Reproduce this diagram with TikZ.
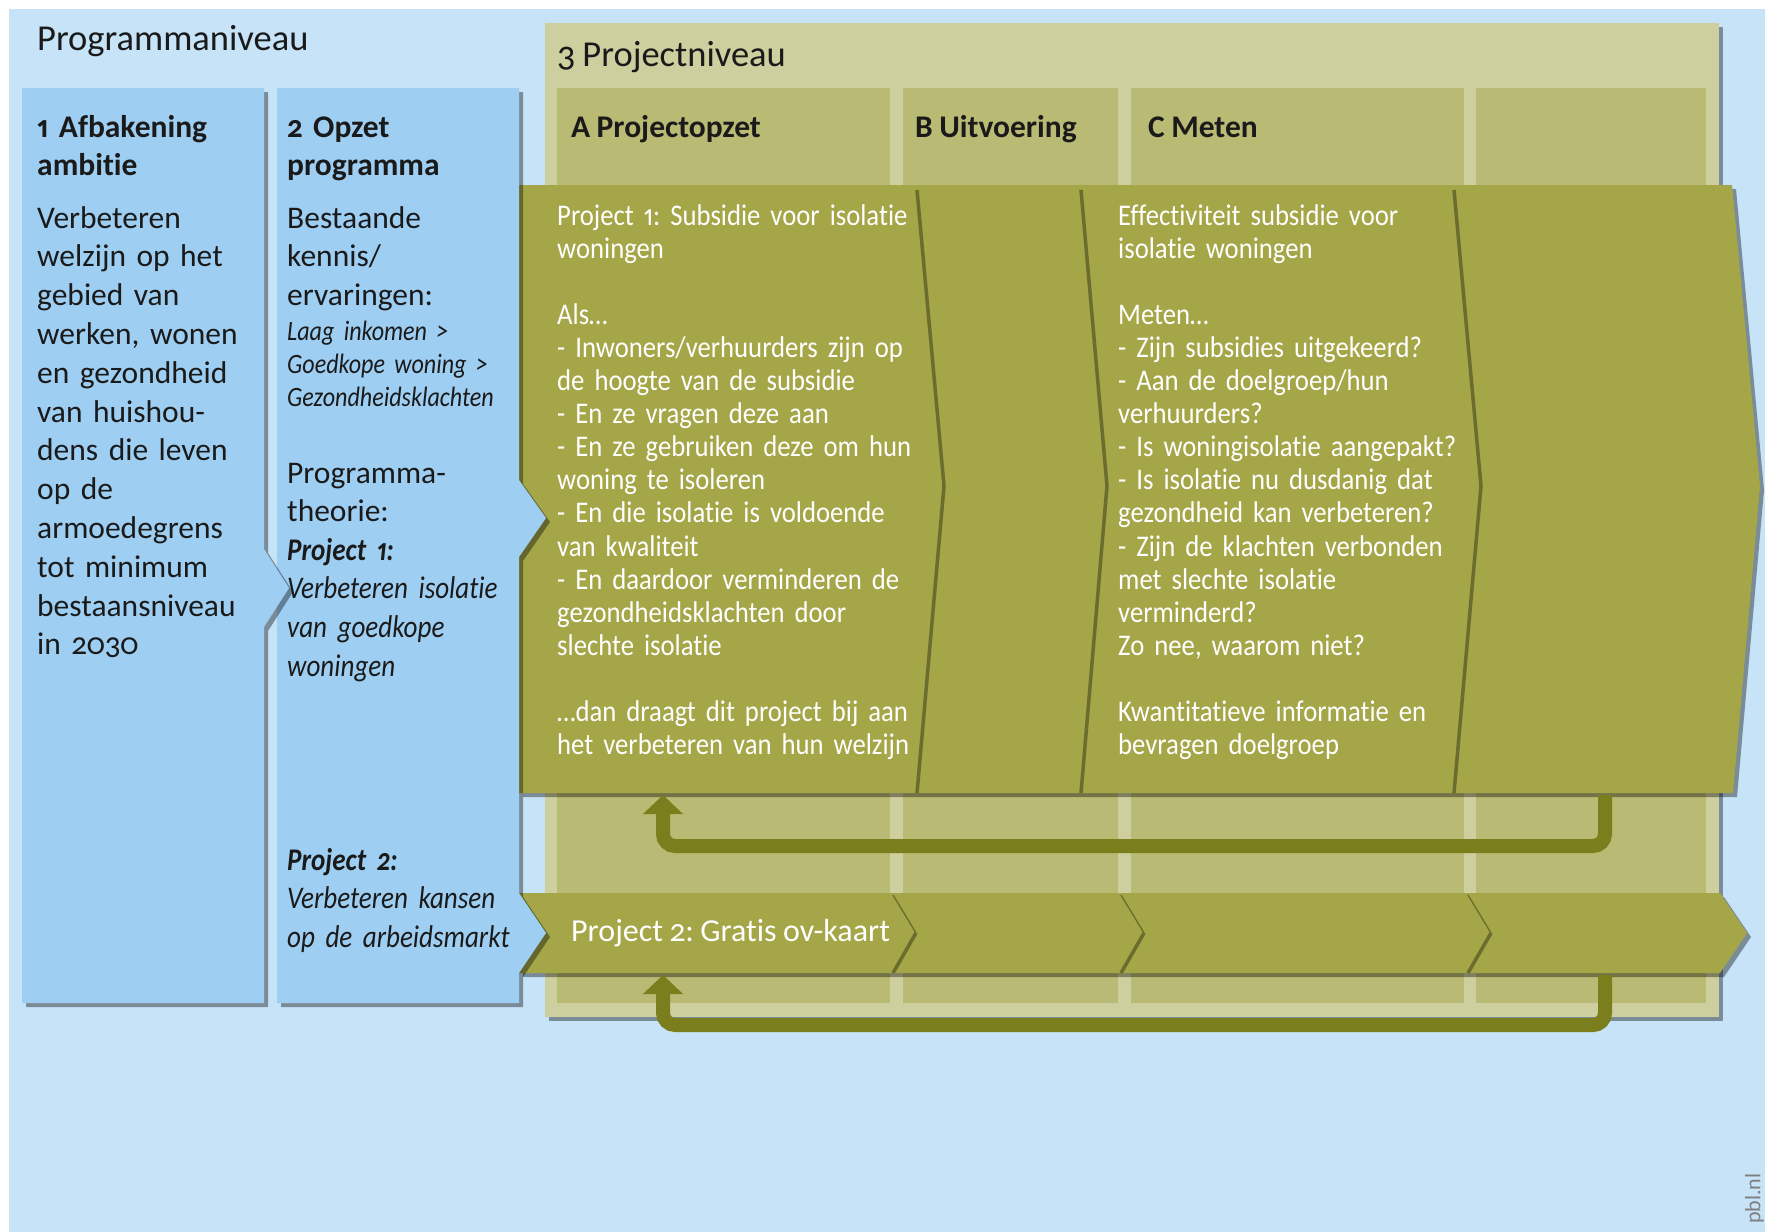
\documentclass[tikz,border=0pt]{standalone}
\usepackage{fontspec}
\setmainfont{Carlito}[Numbers={OldStyle,Proportional},WordSpace=0.9,Ligatures={NoCommon,NoContextual},Contextuals=NoAlternate]
\newfontfamily\condfont{Carlito}[FakeStretch=0.89,Numbers={OldStyle,Proportional},WordSpace=0.85,Ligatures={NoCommon,NoContextual},Contextuals=NoAlternate]
\newfontfamily\narrowfont{Carlito}[FakeStretch=0.86,Numbers={OldStyle,Proportional},WordSpace=0.85,Ligatures={NoCommon,NoContextual},Contextuals=NoAlternate]
\frenchspacing
\usetikzlibrary{arrows.meta}
\definecolor{bgblue}{HTML}{C7E3F8}
\definecolor{colblue}{HTML}{9ECEF2}
\definecolor{panelcol}{HTML}{CDCF9F}
\definecolor{subpanelcol}{HTML}{B9BA73}
\definecolor{bandcol}{HTML}{A4A648}
\definecolor{dividercol}{HTML}{6A6D2D}
\definecolor{fbcol}{HTML}{7B7E1D}
\definecolor{inkcol}{HTML}{1A1A1A}
\definecolor{pblgray}{HTML}{7F7F7F}
\tikzset{
  shadowfill/.style={fill=black,fill opacity=0.38},
  colfill/.style={fill=colblue},
  divline/.style={draw=dividercol,line width=3.5pt},
  divthin/.style={draw=dividercol,line width=1.3pt},
  divthick/.style={draw=dividercol,line width=3.5pt},
  fbarrow/.style={draw=fbcol,line width=14pt,rounded corners=12pt,
    -{Triangle[width=39pt,length=19pt]}},
  coltext/.style={anchor=base west,inner sep=0pt,align=left,text width=300pt,
    text=inkcol},
  olivetext/.style={anchor=base west,inner sep=0pt,align=left,text width=430pt,
    text=white,font=\condfont\fontsize{30}{33.1}\selectfont},
  headtext/.style={anchor=base west,inner sep=0pt,text=inkcol,
    font=\bfseries\fontsize{31.5}{38.8}\selectfont},
  leveltext/.style={anchor=base west,inner sep=0pt,text=inkcol,
    font=\fontsize{36.5}{40}\selectfont},
}
\begin{document}
\begin{tikzpicture}[x=1pt,y=-1pt]
\useasboundingbox (0,0) rectangle (1765,1232);
\fill[white] (0,0) rectangle (1765,1232);
\fill[bgblue] (9,9) rectangle (1765,1232);

% project level panel
\fill[shadowfill] (549,27) rectangle (1723,1021);
\fill[panelcol] (545,23) rectangle (1719,1017);
\foreach \a/\b in {557/890,903/1118,1131/1464,1476/1706}
  \fill[subpanelcol] (\a,88) rectangle (\b,1003);

% band project 1
\fill[shadowfill,shift={(4,4)}] (519,185) -- (1732,185) -- (1760,486) -- (1733,793) -- (519,793) -- cycle;
\fill[bandcol] (519,185) -- (1732,185) -- (1760,486) -- (1733,793) -- (519,793) -- cycle;
\draw[divline] (917,190) -- (944,486) -- (917,793);
\draw[divline] (1081,190) -- (1107,486) -- (1081,793);
\draw[divline] (1454,190) -- (1481,486) -- (1454,793);

% band project 2
\fill[shadowfill,shift={(4,4)}] (519,893) -- (1720,893) -- (1747,933) -- (1720,973) -- (519,973) -- cycle;
\fill[bandcol] (519,893) -- (1720,893) -- (1747,933) -- (1720,973) -- (519,973) -- cycle;
\foreach \x in {893,1121,1468}{
  \draw[divthin] (\x,895) -- (\x+23,933);
  \draw[divthick] (\x+23,933) -- (\x,973);
}

% feedback arrows
\coordinate (f1s) at (1605,795);
\coordinate (f1a) at (1605,846);
\coordinate (f1b) at (663,846);
\coordinate (f1e) at (663,795);
\draw[fbarrow] (f1s) -- (f1a) -- (f1b) -- (f1e);
\coordinate (f2s) at (1605,975);
\coordinate (f2a) at (1605,1025);
\coordinate (f2b) at (663,1025);
\coordinate (f2e) at (663,975);
\draw[fbarrow] (f2s) -- (f2a) -- (f2b) -- (f2e);

% column 2
\fill[shadowfill,shift={(4,4)}] (277,88) -- (519,88) -- (519,480) -- (546,518) -- (519,557) -- (519,893) -- (546,933) -- (519,973) -- (519,1003) -- (277,1003) -- cycle;
\fill[colfill] (277,88) -- (519,88) -- (519,480) -- (546,518) -- (519,557) -- (519,893) -- (546,933) -- (519,973) -- (519,1003) -- (277,1003) -- cycle;

% column 1
\fill[shadowfill,shift={(4,4)}] (22,88) -- (264,88) -- (264,549) -- (289,588) -- (264,627) -- (264,1003) -- (22,1003) -- cycle;
\fill[colfill] (22,88) -- (264,88) -- (264,549) -- (289,588) -- (264,627) -- (264,1003) -- (22,1003) -- cycle;

% level titles
\node[leveltext] (prog) at (37,50.5) {Programmaniveau};
\node[leveltext] (proj) at (557,66) {3 Projectniveau};

% column headers
\node[coltext,font=\bfseries\fontsize{31.5}{38.8}\selectfont] (h1) at (37,137) {1 Afbakening\\ambitie};
\node[coltext,font=\bfseries\fontsize{31.5}{38.8}\selectfont] (h2) at (287,137) {2 Opzet\\programma};
\node[headtext] (hA) at (571,137) {A Projectopzet};
\node[headtext] (hB) at (915,137) {B Uitvoering};
\node[headtext] (hC) at (1148,137) {C Meten};

% column 1 text
\node[coltext,font=\fontsize{31.5}{38.8}\selectfont] (c1) at (37,228)
  {Verbeteren\\welzijn op het\\gebied van\\werken, wonen\\en gezondheid\\van huishou-\\dens die leven\\op de\\armoedegrens\\tot minimum\\bestaansniveau\\in 2030};

% column 2 text
\node[coltext,font=\fontsize{31.5}{38.8}\selectfont] (c2a) at (287,228)
  {Bestaande\\kennis/\\ervaringen:};
\node[coltext,font=\narrowfont\itshape\fontsize{28}{33}\selectfont] (c2b) at (287,340)
  {Laag inkomen >\\Goedkope woning >\\Gezondheidsklachten};
\node[coltext,font=\fontsize{31.5}{38.8}\selectfont] (c2c) at (287,483)
  {Programma-\\theorie:};
\node[coltext,font=\narrowfont\itshape\fontsize{31.5}{38.8}\selectfont] (c2d) at (287,560)
  {{\bfseries Project 1:}\\Verbeteren isolatie\\van goedkope\\woningen};
\node[coltext,font=\narrowfont\itshape\fontsize{31.5}{38.6}\selectfont] (c2e) at (287,870)
  {{\bfseries Project 2:}\\Verbeteren kansen\\op de arbeidsmarkt};

% project 1 texts
\node[olivetext] (pA) at (557,225)
  {Project 1: Subsidie voor isolatie\\woningen\\[33.1pt]Als…\\- Inwoners/verhuurders zijn op\\de hoogte van de subsidie\\- En ze vragen deze aan\\- En ze gebruiken deze om hun\\woning te isoleren\\- En die isolatie is voldoende\\van kwaliteit\\- En daardoor verminderen de\\gezondheidsklachten door\\slechte isolatie\\[33.1pt]…dan draagt dit project bij aan\\het verbeteren van hun welzijn};
\node[olivetext] (pC) at (1118,225)
  {Effectiviteit subsidie voor\\isolatie woningen\\[33.1pt]Meten…\\- Zijn subsidies uitgekeerd?\\- Aan de doelgroep/hun\\verhuurders?\\- Is woningisolatie aangepakt?\\- Is isolatie nu dusdanig dat\\gezondheid kan verbeteren?\\- Zijn de klachten verbonden\\met slechte isolatie\\verminderd?\\Zo nee, waarom niet?\\[33.1pt]Kwantitatieve informatie en\\bevragen doelgroep};

% project 2 text
\node[anchor=base west,inner sep=0pt,text=white,font=\fontsize{32}{36}\selectfont] (p2) at (571,941) {Project 2: Gratis ov-kaart};

% source
\node[rotate=90,anchor=south west,inner sep=0pt,text=pblgray,font=\fontsize{22}{26}\selectfont] (pbl) at (1764,1224) {pbl.nl};
\end{tikzpicture}
\end{document}
